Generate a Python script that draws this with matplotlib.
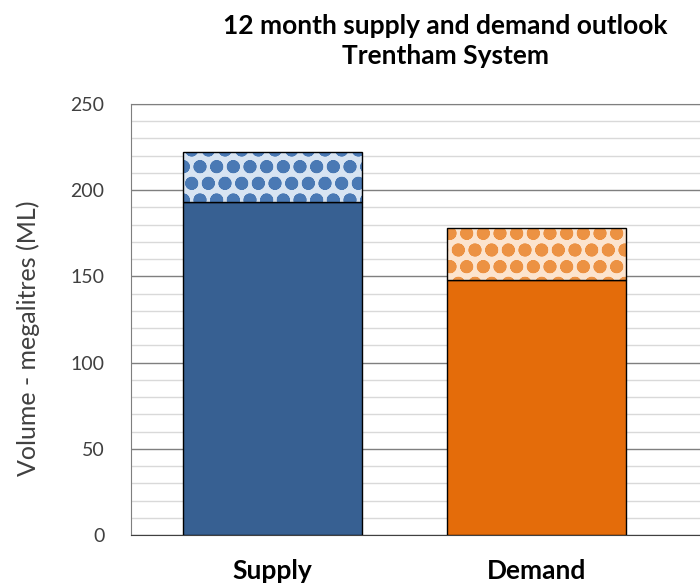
import matplotlib.pyplot as plt
from matplotlib.ticker import MultipleLocator

# values (megalitres)
categories = ['Supply', 'Demand']
base_values = [193, 148]
extra_values = [29, 30]

base_colors = ['#376092', '#E46C0A']
hatch_face = ['#D8E4F2', '#FCE4CE']
hatch_edge = ['#4A79B4', '#EC9243']

plt.rcParams['font.family'] = ['Lato', 'DejaVu Sans']
plt.rcParams['hatch.linewidth'] = 4.6

fig = plt.figure(figsize=(7, 5.85), dpi=100)
ax = fig.add_axes([131 / 700, 50 / 585, 1 - 131 / 700, 431 / 585])

x = [0, 1]
w = 0.678

ax.bar(x, base_values, width=w, color=base_colors, edgecolor='black', linewidth=1, zorder=3)
for i in range(len(x)):
    ax.bar(x[i], extra_values[i], bottom=base_values[i], width=w, color=hatch_face[i],
           edgecolor=hatch_edge[i], hatch='o', linewidth=0, zorder=3)
    ax.bar(x[i], extra_values[i], bottom=base_values[i], width=w, fill=False,
           edgecolor='black', linewidth=1, zorder=4)

ax.set_xlim(-0.536, 1.619)
ax.set_ylim(0, 250)
ax.yaxis.set_major_locator(MultipleLocator(50))
ax.yaxis.set_minor_locator(MultipleLocator(10))
ax.grid(which='major', axis='y', color='#7F7F7F', linewidth=1, zorder=0)
ax.grid(which='minor', axis='y', color='#D9D9D9', linewidth=1, zorder=0)
ax.set_axisbelow(True)

ax.set_xticks(x)
ax.set_xticklabels(categories, fontsize=19, fontweight='bold')
ax.tick_params(axis='x', length=0, pad=17)
ax.tick_params(axis='y', which='both', length=0, labelsize=14, labelcolor='#404040', pad=19)

ax.spines['right'].set_visible(False)
ax.spines['top'].set_color('#7F7F7F')
ax.spines['left'].set_color('#7F7F7F')
ax.spines['bottom'].set_color('#404040')

ax.set_ylabel('Volume - megalitres (ML)', fontsize=18, color='#404040')
ax.yaxis.set_label_coords(-0.16, 0.457)
fig.text(445 / 700, 1 - 41 / 585, '12 month supply and demand outlook\nTrentham System',
         ha='center', va='center', fontsize=19, fontweight='bold', linespacing=1.25)

fig.savefig('out.png', dpi=100)
